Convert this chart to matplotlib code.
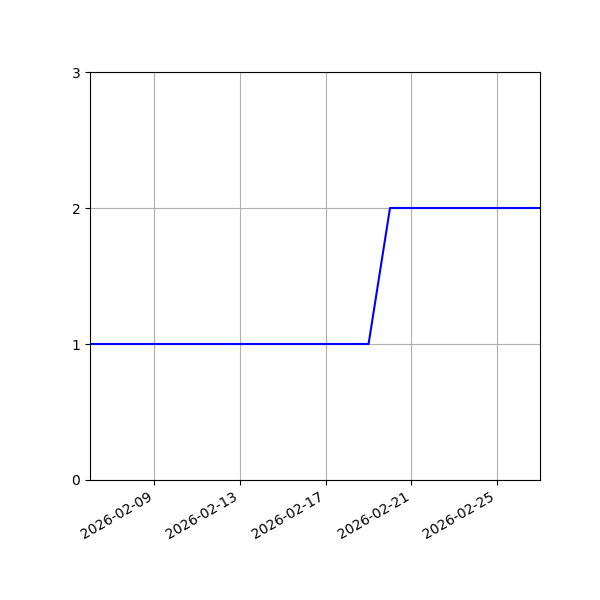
import numpy as np
import matplotlib
matplotlib.use('Agg')
import matplotlib.pyplot as plt
import matplotlib.dates as mdates
from datetime import date

# daily counts
dates = [date(2026, 2, d) for d in range(6, 28)]
counts = [1, 1, 1, 1, 1, 1, 1, 1, 1, 1, 1, 1, 1, 1,
          2, 2, 2, 2, 2, 2, 2, 2]

tick_dates = [date(2026, 2, d) for d in (9, 13, 17, 21, 25)]

fig, ax = plt.subplots(figsize=(6, 6), dpi=100)
ax.plot(dates, counts, color='blue')
ax.set_xlim(dates[0], dates[-1])
ax.set_ylim(0, 3)
ax.set_yticks([0, 1, 2, 3])
ax.set_xticks(tick_dates)
ax.xaxis.set_major_formatter(mdates.DateFormatter('%Y-%m-%d'))
ax.grid(True)
fig.autofmt_xdate()
fig.subplots_adjust(left=0.15, right=0.9, top=0.88, bottom=0.2)

fig.savefig('out.png')
